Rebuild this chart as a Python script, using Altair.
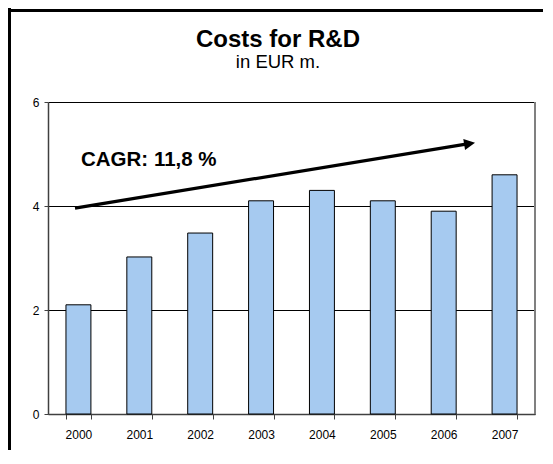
import altair as alt
import pandas as pd

years = ["2000", "2001", "2002", "2003", "2004", "2005", "2006", "2007"]
costs = [2.1, 3.02, 3.48, 4.1, 4.3, 4.1, 3.9, 4.6]
y_ticks = [0, 2, 4, 6]
title_text = "Costs for R&D"
subtitle_text = "in EUR m."
cagr_text = "CAGR: 11,8 %"
arrow_y = [3.96, 5.19]   # start / end of arrow shaft in EUR m.
arrow_head_y = 5.2

FONT = "Arial, Liberation Sans"
W, H = 487, 312

df = pd.DataFrame({"year": years, "cost": costs})

xenc = alt.X("year:N", sort=years,
             scale=alt.Scale(paddingInner=0.59, paddingOuter=0.295),
             axis=alt.Axis(title=None, labelAngle=0, tickBand="extent",
                           tickSize=5, tickColor="#404040", domainColor="#404040",
                           domainWidth=1.5, labelFont=FONT, labelFontSize=12,
                           labelColor="black", labelPadding=10, grid=False))
yenc = alt.Y("cost:Q", scale=alt.Scale(domain=[0, 6], nice=False),
             axis=alt.Axis(title=None, values=y_ticks, tickSize=4,
                           tickColor="#404040", domainColor="#404040",
                           domainWidth=1.5, labelFont=FONT, labelFontSize=12,
                           labelColor="black", labelPadding=5,
                           grid=True, gridColor="black", gridWidth=1, gridOpacity=1))

bars = alt.Chart(df).mark_bar(fill="#A6CAF0", stroke="black", strokeWidth=1).encode(
    x=xenc, y=yenc)

right_edge = alt.Chart(df).mark_rule(color="#808080", strokeWidth=2).encode(
    x=alt.value(W), y=alt.value(0), y2=alt.value(H))

frame_top = alt.Chart(df).mark_rule(color="black", strokeWidth=2.5).encode(
    x=alt.value(-40), x2=alt.value(W + 10), y=alt.value(-91.5))
frame_left = alt.Chart(df).mark_rule(color="black", strokeWidth=2.5).encode(
    x=alt.value(-38.75), y=alt.value(-94), y2=alt.value(H + 42))

arrow_df = pd.DataFrame({"y0": [arrow_y[0]], "y1": [arrow_y[1]], "yh": [arrow_head_y]})
shaft = alt.Chart(arrow_df).mark_rule(color="black", strokeWidth=3.2).encode(
    x=alt.value(27), x2=alt.value(418),
    y=alt.Y("y0:Q", scale=alt.Scale(domain=[0, 6], nice=False)), y2="y1:Q")
head = alt.Chart(arrow_df).mark_point(
    shape="M-1,-1L1,0L-1,1Z", filled=True, color="black", opacity=1,
    size=121, angle=350.7).encode(
    x=alt.value(421.6), y=alt.Y("yh:Q", scale=alt.Scale(domain=[0, 6], nice=False)))

title = alt.Chart(pd.DataFrame({"t": [title_text]})).mark_text(
    font=FONT, fontSize=24, fontWeight="bold", color="black",
    align="center", baseline="alphabetic").encode(
    text="t:N", x=alt.value(230), y=alt.value(-55))
subtitle = alt.Chart(pd.DataFrame({"t": [subtitle_text]})).mark_text(
    font=FONT, fontSize=18.5, color="black",
    align="center", baseline="alphabetic").encode(
    text="t:N", x=alt.value(230), y=alt.value(-34))
cagr = alt.Chart(pd.DataFrame({"t": [cagr_text]})).mark_text(
    font=FONT, fontSize=20.5, fontWeight="bold", color="black",
    align="left", baseline="alphabetic").encode(
    text="t:N", x=alt.value(33), y=alt.value(63.7))

chart = alt.layer(bars, right_edge, shaft, head, frame_top, frame_left,
                  title, subtitle, cagr).properties(
    width=W, height=H, autosize="none",
    padding={"left": 40, "top": 94, "right": 8, "bottom": 36},
    background="white",
).configure_view(stroke=None)

chart.save("out.html", embed_options={"renderer": "svg", "actions": False})
